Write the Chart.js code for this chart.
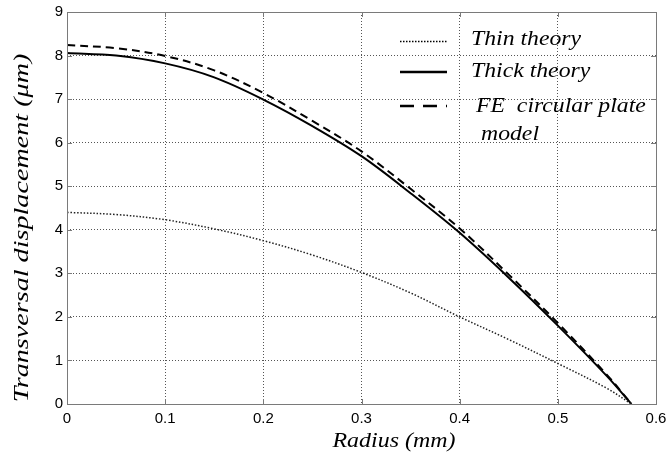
<!DOCTYPE html>
<html>
<head>
<meta charset="utf-8">
<script src="https://cdn.jsdelivr.net/npm/chart.js@4.4.0/dist/chart.umd.min.js"></script>
<style>
  html, body { margin: 0; padding: 0; background: #fff; }
  canvas { display: block; }
</style>
</head>
<body>
<canvas id="plate-chart" width="667" height="458"></canvas>
<script>
// radius (mm) and transversal displacement (um) for each model
const radius = [0, 0.05, 0.1, 0.15, 0.2, 0.25, 0.3, 0.35, 0.4, 0.45, 0.5, 0.55, 0.575];
const thinTheory = [4.40, 4.35, 4.23, 4.02, 3.75, 3.42, 3.02, 2.55, 2.00, 1.48, 0.93, 0.36, 0];
const thickTheory = [8.06, 8.00, 7.82, 7.50, 6.99, 6.38, 5.69, 4.84, 3.93, 2.90, 1.80, 0.64, 0];
const feModel = [8.24, 8.17, 7.99, 7.66, 7.14, 6.50, 5.80, 4.94, 4.03, 2.97, 1.86, 0.67, 0];

const xTicks = [0, 0.1, 0.2, 0.3, 0.4, 0.5, 0.6];
const yTicks = [0, 1, 2, 3, 4, 5, 6, 7, 8, 9];

const xTitle = "Radius (mm)";
const yTitle = "Transversal displacement (\u03bcm)";
const legendLabels = ["Thin theory", "Thick theory", "FE  circular plate", "model"];

const toPoints = (ys) => radius.map((r, i) => ({x: r, y: ys[i]}));

const serifItalic = (size) => `italic ${size}px "Liberation Serif", "DejaVu Serif", serif`;
const tickFont = {family: '"Liberation Sans", Arial, sans-serif', size: 15};

// the figure's text is a little wider than the font, so stretch it
function stretchedText(ctx, text, x, y, sx, align, angle) {
    ctx.save();
    ctx.translate(x, y);
    if (angle) ctx.rotate(angle);
    ctx.scale(sx, 1);
    ctx.textAlign = align;
    ctx.fillText(text, 0, 0);
    ctx.restore();
}

// box round the axes with inward tick marks, axis titles and legend
const framePlugin = {
    id: "frame",
    afterDraw(chart) {
        const {ctx, chartArea: a, scales} = chart;
        ctx.save();
        ctx.strokeStyle = "#7a7a7a";
        ctx.lineWidth = 1;
        ctx.strokeRect(Math.round(a.left) + 0.5, Math.round(a.top) + 0.5,
            Math.round(a.right - a.left), Math.round(a.bottom - a.top));
        ctx.beginPath();
        xTicks.forEach(v => {
            const x = Math.round(scales.x.getPixelForValue(v)) + 0.5;
            ctx.moveTo(x, a.bottom); ctx.lineTo(x, a.bottom - 5);
            ctx.moveTo(x, a.top); ctx.lineTo(x, a.top + 5);
        });
        yTicks.forEach(v => {
            const y = Math.round(scales.y.getPixelForValue(v)) + 0.5;
            ctx.moveTo(a.left, y); ctx.lineTo(a.left + 5, y);
            ctx.moveTo(a.right, y); ctx.lineTo(a.right - 5, y);
        });
        ctx.stroke();
        ctx.restore();

        // axis titles
        ctx.save();
        ctx.fillStyle = "#000";
        ctx.font = serifItalic(21);
        ctx.textBaseline = "alphabetic";
        stretchedText(ctx, xTitle, 394, 447, 1.14, "center");
        ctx.textBaseline = "middle";
        stretchedText(ctx, yTitle, 22, 228, 1.34, "center", -Math.PI / 2);
        ctx.restore();

        // legend
        ctx.save();
        ctx.strokeStyle = "#000";
        const rows = [
            {y: 41.5, dash: [1.5, 1.5], width: 1.6, text: legendLabels[0], tx: 471, ty: 45},
            {y: 72, dash: [], width: 2.6, text: legendLabels[1], tx: 471, ty: 77},
            {y: 106, dash: [14, 9], width: 2.6, text: legendLabels[2], tx: 476, ty: 112}
        ];
        rows.forEach(r => {
            ctx.setLineDash(r.dash);
            ctx.lineWidth = r.width;
            ctx.beginPath();
            ctx.moveTo(400, r.y);
            ctx.lineTo(447, r.y);
            ctx.stroke();
        });
        ctx.setLineDash([]);
        ctx.fillStyle = "#000";
        ctx.font = serifItalic(21);
        ctx.textBaseline = "alphabetic";
        rows.forEach(r => stretchedText(ctx, r.text, r.tx, r.ty, 1.13, "left"));
        stretchedText(ctx, legendLabels[3], 481, 140, 1.13, "left");
        ctx.restore();
    }
};

new Chart(document.getElementById("plate-chart"), {
    type: "line",
    data: {
        datasets: [
            {
                label: "Thin theory",
                data: toPoints(thinTheory),
                borderColor: "#222",
                borderWidth: 1.5,
                borderDash: [1.5, 1.8],
                pointRadius: 0,
                tension: 0.35
            },
            {
                label: "Thick theory",
                data: toPoints(thickTheory),
                borderColor: "#000",
                borderWidth: 2,
                pointRadius: 0,
                tension: 0.35
            },
            {
                label: "FE circular plate model",
                data: toPoints(feModel),
                borderColor: "#000",
                borderWidth: 2,
                borderDash: [8, 5],
                pointRadius: 0,
                tension: 0.35
            }
        ]
    },
    options: {
        responsive: false,
        animation: false,
        devicePixelRatio: 1,
        layout: {padding: {top: 12, right: 11, left: 0, bottom: 0}},
        plugins: {legend: {display: false}, tooltip: {enabled: false}},
        scales: {
            x: {
                type: "linear",
                min: 0,
                max: 0.6,
                afterBuildTicks: (scale) => { scale.ticks = xTicks.map(v => ({value: v})); },
                afterFit: (scale) => {
                    scale.height = 54;
                    // let the end labels run past the plot edge
                    scale.paddingLeft = 0;
                    scale.paddingRight = 0;
                },
                ticks: {
                    color: "#000",
                    font: tickFont,
                    padding: 6,
                    maxRotation: 0,
                    callback: (v) => String(v)
                },
                grid: {color: "#555", lineWidth: 1, drawTicks: false},
                border: {display: false, dash: [1, 2]}
            },
            y: {
                type: "linear",
                min: 0,
                max: 9,
                afterBuildTicks: (scale) => { scale.ticks = yTicks.map(v => ({value: v})); },
                afterFit: (scale) => {
                    scale.width = 67;
                    scale.paddingTop = 0;
                    scale.paddingBottom = 0;
                },
                ticks: {color: "#000", font: tickFont, padding: 4},
                grid: {color: "#555", lineWidth: 1, drawTicks: false},
                border: {display: false, dash: [1, 2]}
            }
        }
    },
    plugins: [framePlugin]
});
</script>
</body>
</html>
